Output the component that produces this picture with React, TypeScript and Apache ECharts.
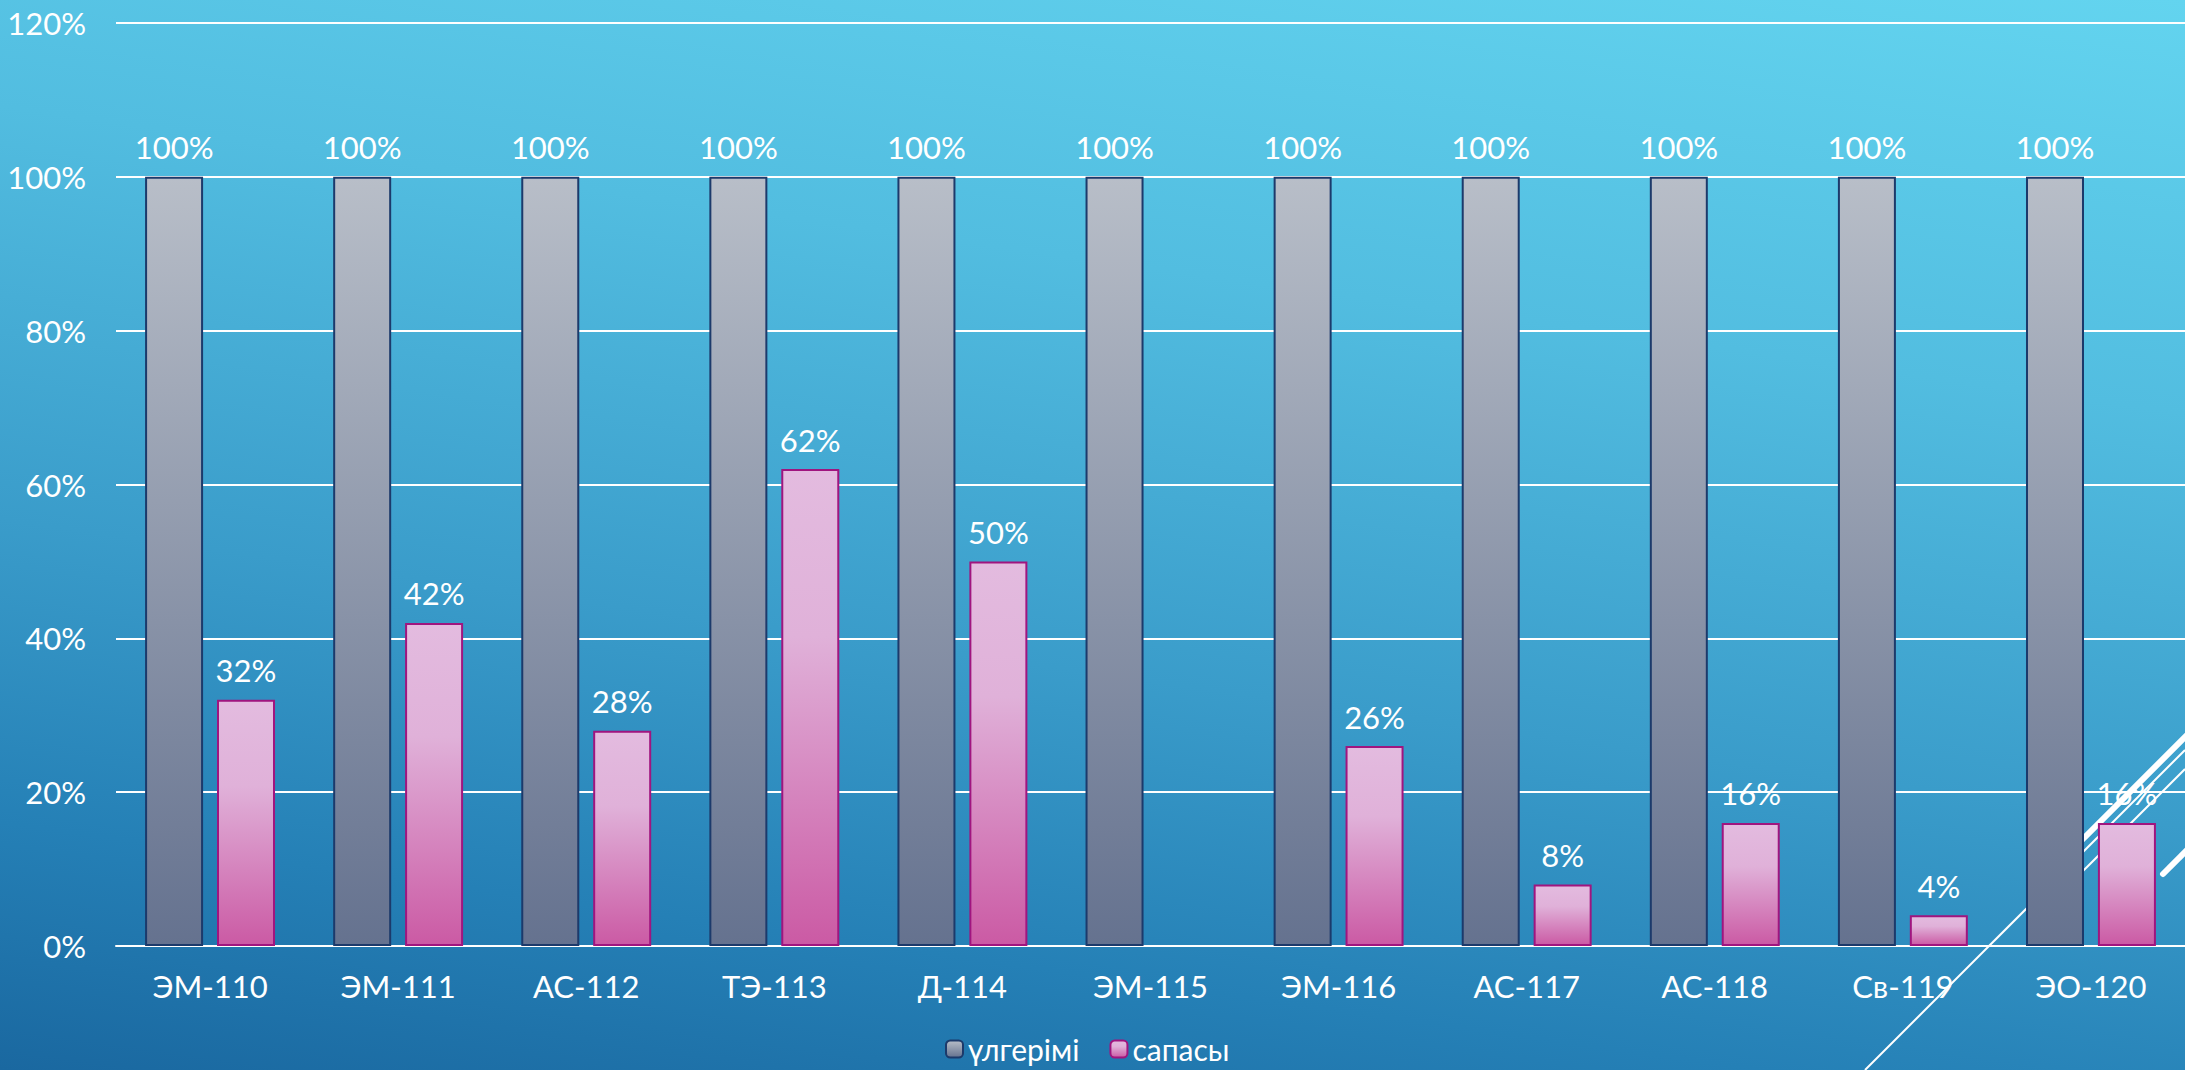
import React, { useEffect, useRef } from "react";
import * as echarts from "echarts";

const categories = ["ЭМ-110", "ЭМ-111", "АС-112", "ТЭ-113", "Д-114", "ЭМ-115", "ЭМ-116", "АС-117", "АС-118", "Св-119", "ЭО-120"];
const progress = [100, 100, 100, 100, 100, 100, 100, 100, 100, 100, 100];
const quality: (number | string)[] = [32, 42, 28, 62, 50, "-", 26, 8, 16, 4, 16];
const yTicks = [0, 20, 40, 60, 80, 100, 120];
const seriesNames = ["үлгерімі", "сапасы"];

const FONT = "Lato, 'Noto Sans', sans-serif";

export default function App() {
  const ref = useRef<HTMLDivElement>(null);
  useEffect(() => {
    document.body.style.margin = "0";
    const chart = echarts.init(ref.current!, null, { renderer: "svg" });
    const greyGrad = new echarts.graphic.LinearGradient(0, 0, 0, 1, [
      { offset: 0, color: "#b8bec8" },
      { offset: 1, color: "#65728f" },
    ]);
    const pinkGrad = new echarts.graphic.LinearGradient(0, 0, 0, 1, [
      { offset: 0, color: "#e3bbdf" },
      { offset: 0.35, color: "#e0b1d9" },
      { offset: 1, color: "#cb5aa4" },
    ]);
    const white = "#ffffff";
    chart.setOption({
      animation: false,
      grid: { left: 116, right: 0, top: 23, bottom: 124, containLabel: false },
      legend: {
        left: 943,
        top: 1030,
        padding: 2,
        itemWidth: 17,
        itemHeight: 17,
        itemGap: 30,
        textStyle: { color: white, fontSize: 30, fontFamily: FONT, lineHeight: 34 },
        data: seriesNames,
      },
      xAxis: {
        type: "category",
        data: categories,
        axisLine: { lineStyle: { color: white, width: 2 } },
        axisTick: { show: false },
        axisLabel: { color: white, fontSize: 31, fontFamily: FONT, margin: 24 },
      },
      yAxis: {
        type: "value",
        min: yTicks[0],
        max: yTicks[yTicks.length - 1],
        interval: 20,
        axisLine: { show: false },
        axisTick: { show: false },
        splitLine: { lineStyle: { color: white, width: 2 } },
        axisLabel: { color: white, fontSize: 31, fontFamily: FONT, margin: 30, formatter: "{value}%" },
      },
      graphic: [
        { type: "line", z: 1, shape: { x1: 1865, y1: 1070, x2: 2185, y2: 750 }, style: { stroke: white, lineWidth: 2 } },
        { type: "line", z: 1, shape: { x1: 2050, y1: 872, x2: 2190, y2: 732 }, style: { stroke: white, lineWidth: 6, lineCap: "round" } },
        { type: "line", z: 1, shape: { x1: 2040, y1: 914, x2: 2185, y2: 769 }, style: { stroke: white, lineWidth: 2 } },
        { type: "line", z: 1, shape: { x1: 2163, y1: 874, x2: 2190, y2: 847 }, style: { stroke: white, lineWidth: 6, lineCap: "round" } },
      ],
      series: [
        {
          name: seriesNames[0],
          type: "bar",
          data: progress,
          barWidth: 58,
          barGap: "24%",
          itemStyle: { color: greyGrad, borderColor: "#1c3a6b", borderWidth: 2 },
          label: { show: true, position: "top", distance: 14, color: white, fontSize: 31, fontFamily: FONT, formatter: "{c}%" },
        },
        {
          name: seriesNames[1],
          type: "bar",
          data: quality,
          barWidth: 58,
          itemStyle: { color: pinkGrad, borderColor: "#a0157f", borderWidth: 2 },
          label: { show: true, position: "top", distance: 14, color: white, fontSize: 31, fontFamily: FONT, formatter: "{c}%" },
        },
      ],
    });
    return () => chart.dispose();
  }, []);
  return (
    <div
      ref={ref}
      style={{
        position: "fixed",
        left: 0,
        top: 0,
        width: 2185,
        height: 1070,
        background: "linear-gradient(188deg, #63d4ef 0%, #52bde0 30%, #3a9cca 60%, #2580b6 82%, #1a68a0 100%)",
      }}
    />
  );
}
